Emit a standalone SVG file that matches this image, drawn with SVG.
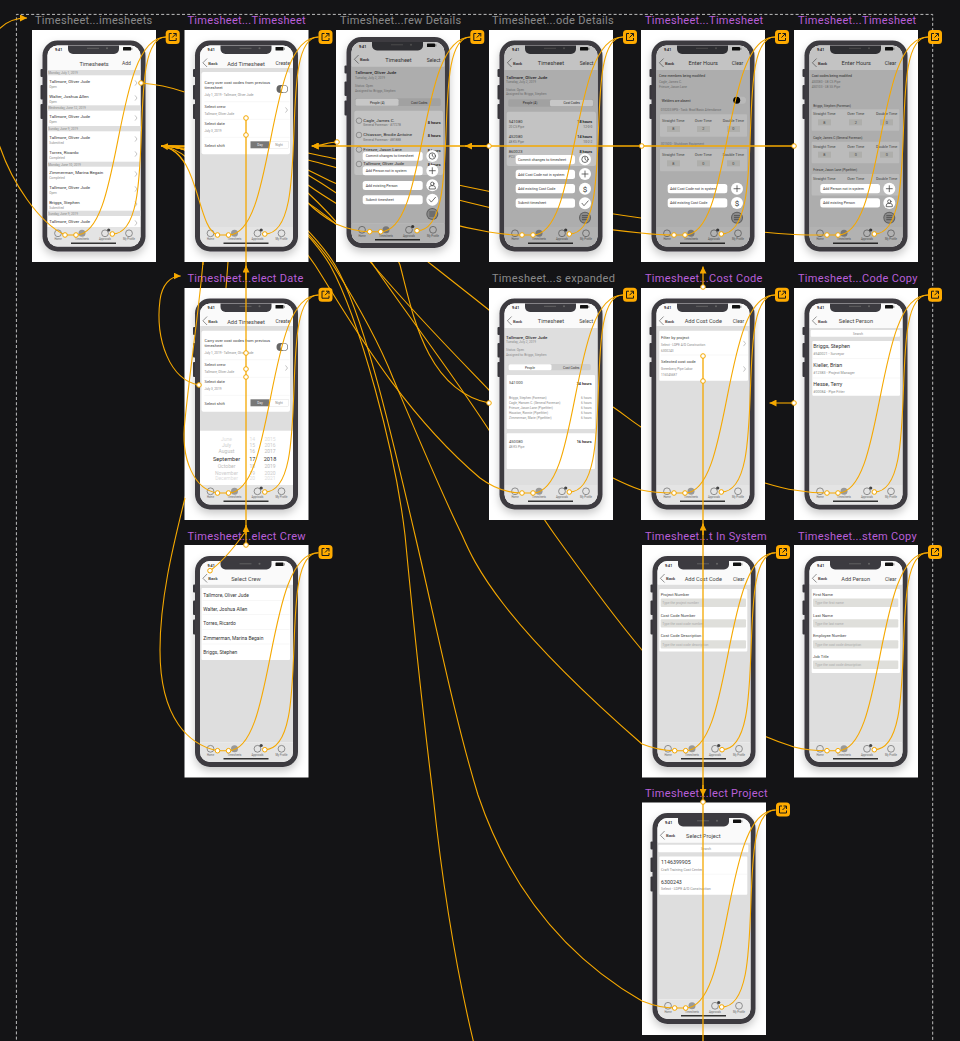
<svg xmlns="http://www.w3.org/2000/svg" width="960" height="1041" viewBox="0 0 960 1041">
<style>
text{font-family:Roboto,"Liberation Sans",sans-serif;fill:#333}
.lbl{font-size:11px;letter-spacing:.3px}
.g{fill:#8a8a8a}.p{fill:#b85fd8}
.frame{fill:#fff}
.title{font-size:5.6px;text-anchor:middle;fill:#444}
.nav{font-size:5px;fill:#444}
.back{font-size:4.2px;font-weight:500;fill:#333}
.n{font-size:4.4px;fill:#333}
.n2{font-size:4.9px;fill:#333}
.n3{font-size:5.3px;fill:#333}
.h{font-size:4.1px;fill:#444}
.s{font-size:3.2px;fill:#8a8a8a}
.b{font-size:3.8px;font-weight:700;text-anchor:end;fill:#333}
.r{font-size:3.2px;text-anchor:end;fill:#777}
.m{font-size:3.8px;text-anchor:middle;fill:#555}
.ph{font-size:3.4px;fill:#aaa}
.tab{font-size:2.7px;text-anchor:middle;fill:#666}
.clk{font-size:3.6px;font-weight:700;fill:#222}
.bg{fill:#dedede}.nb{fill:#fafafa}.w{fill:#fff}.hd{fill:#dedede}
.in{fill:#dfdfdb}.seg{fill:#cfcfcf}.val{fill:#adadad}
.dv{stroke:#eee;stroke-width:.5}
.ov{fill:#000;opacity:.22}
.pill{fill:#fff}
.pt{font-size:3.6px;fill:#333}
.c{fill:none;stroke:#f5a800;stroke-width:1.1}
.v{fill:none;stroke:#f5a800;stroke-width:1.3}
.d{fill:#fff;stroke:#f5a800;stroke-width:1}
.ic{fill:none;stroke:#333;stroke-width:.7;stroke-linecap:round}
</style>
<defs>
<filter id="sh" x="-30%" y="-10%" width="160%" height="125%"><feDropShadow dx="0" dy="4" stdDeviation="4" flood-color="#000" flood-opacity=".22"/></filter>
<marker id="arr" viewBox="0 0 8 8" refX="8" refY="4" markerWidth="7" markerHeight="7" markerUnits="userSpaceOnUse" orient="auto"><path d="M0,0 L8,4 L0,8 z" fill="#f5a800"/></marker>
<g id="phone">
<rect x="8.5" y="39" width="3" height="8" rx="1" fill="#3c3b40"/><rect x="8.5" y="55" width="3" height="14.5" rx="1" fill="#3c3b40"/><rect x="8.5" y="74" width="3" height="15" rx="1" fill="#3c3b40"/>
<rect x="10.5" y="10.5" width="103" height="211" rx="15" fill="#3c3b40" filter="url(#sh)"/>
<rect x="15.5" y="15.5" width="93" height="201" rx="10" fill="#fff"/>
</g>
<g id="phoneTop">
<path d="M15.5,197H108.5V206.5a10,10 0 0 1-10,10H25.5a10,10 0 0 1-10-10Z" fill="#e4e4e4"/>
<path d="M36,15.5H87V19a5,5 0 0 1-5,5H41a5,5 0 0 1-5-5Z" fill="#3c3b40"/>
<path d="M55,18.3H67" stroke="#6a6a6a" stroke-width=".8"/><circle cx="75" cy="18.3" r="1" fill="#666"/>
<rect x="91" y="17" width="8" height="3.6" rx=".6" fill="#111"/><rect x="99" y="17.7" width="1.4" height="2.2" fill="#999"/>
<circle cx="26" cy="203.3" r="3.4" fill="none" stroke="#777" stroke-width=".8"/><circle cx="50" cy="203.3" r="3.5" fill="#999"/><circle cx="73" cy="203.3" r="3.4" fill="none" stroke="#777" stroke-width=".8"/><circle cx="76.7" cy="200" r="1.6" fill="#444"/><circle cx="97" cy="203.3" r="3.4" fill="none" stroke="#777" stroke-width=".8"/>
<path d="M39,213.3H84" stroke="#333" stroke-width="1.4"/>
</g>
<path id="bk" d="M22.6,28.5L18.4,32.8L22.6,37" fill="none" stroke="#777" stroke-width=".8"/>
<path id="chev" d="M0,-2.6L2,0L0,2.6" fill="none" stroke="#aaa" stroke-width=".7"/>
<g id="ext"><rect x="-7" y="-7" width="14" height="14" rx="3.5" fill="#ffab00"/><path d="M-1,-3.5H-3.5V3.5H3.5V1M.5,-3.5H3.5V-.5M3.5,-3.5L-.5,.5" fill="none" stroke="#1a1a1a" stroke-width="1"/></g>
<g id="fClock"><circle r="6" fill="#fff"/><circle r="3.2" class="ic"/><path d="M0,-2V0L1.3,1" class="ic"/></g>
<g id="fPlus"><circle r="6" fill="#fff"/><path d="M-3,0H3M0,-3V3" class="ic" stroke-width="1"/></g>
<g id="fPerson"><circle r="6" fill="#fff"/><circle cy="-1.5" r="1.7" class="ic"/><path d="M-3,3.3V2a2,2 0 0 1 2,-1.6H1a2,2 0 0 1 2,1.6V3.3Z" class="ic"/></g>
<g id="fCheck"><circle r="6" fill="#fff"/><path d="M-3,0L-1,2.4L3.2,-2.4" class="ic" stroke-width="1"/></g>
<g id="fMoney"><circle r="6" fill="#fff"/></g>
<g id="fMenu"><circle r="6" fill="#5f5f5f"/><circle r="5" fill="#8a8a8a"/><path d="M-3,-2H3M-3,0H3M-3,2H3" stroke="#444" stroke-width=".8"/></g>
</defs>
<rect width="960" height="1041" fill="#141416"/>
<path d="M16.4,1050V14.4H932.7V1050" fill="none" stroke="#e8e8e8" stroke-width=".8" stroke-dasharray="3 2.2"/>

<g id="connectors-back">
<path class="c" d="M161,146C220,146 260,145 308,153C400,172 520,201 641,218C700,226 740,231 794,234.5"/>
<path class="c" d="M161,146C220,146 260,148 308,160C400,184 520,222 641,233"/>
<path class="c" d="M161,146C220,146 270,150 308,170C360,197 430,222 489,232"/>
<path class="c" d="M161,146C220,146 270,165 308,203C316,211 326,218 336,224"/>
<path class="c" d="M161,146C220,146 270,152 308,185C350,215 385,225 400,265C412,310 425,390 489,403"/>
<path class="c" d="M161,146C220,146 270,155 308,193C340,222 350,240 373,265C420,320 470,370 489,390C530,430 570,463 613,478C625,484 635,488 641,490"/>
<path class="c" d="M161,146C220,146 270,152 308,175C350,200 390,232 432,265C460,287 470,295 489,310C530,343 570,375 613,407C625,415 630,420 641,427C680,450 725,472 765,483C775,486 785,489 794,490"/>
<path class="c" d="M161,146C215,146 280,215 315,265C350,320 400,410 480,478"/>
<path class="c" d="M161,146C215,146 300,215 330,265C360,320 395,450 405,535C415,640 425,730 433,795C442,880 455,970 478,1060"/>
<path class="c" d="M161,146C215,146 305,215 335,265C365,315 395,450 415,535C435,620 455,720 478,795C500,860 545,945 642,1001"/>
<path class="c" d="M161,146C215,146 300,215 333,265C355,300 378,340 393,378C415,430 440,490 462,535C475,565 500,620 642,744"/>
<path class="c" d="M161,146C215,146 330,200 372,263C400,305 450,370 489,430C510,465 530,500 555,535C580,570 610,612 642,650C680,690 725,725 794,747"/>
<path class="c" d="M161,146C190,150 205,200 203,265"/>
<path class="c" d="M161,146C200,150 228,210 228,262L226,288C224,340 200,430 185,498"/>
</g>

<g id="frame-timesheets" transform="translate(32,30)">
<text class="lbl g" x="3" y="-6">Timesheet...imesheets</text>
<rect class="frame" width="124" height="232"/><use href="#phone"/>
<path class="nb" d="M15.5,25.5a10,10 0 0 1 10,-10H98.5a10,10 0 0 1 10,10V40H15.5Z"/>
<rect class="w" x="15.5" y="40" width="93" height="157"/>
<text class="clk" x="23" y="21.3">9:41</text>
<text class="title" x="62" y="35.5">Timesheets</text><text class="nav" x="90" y="35">Add</text>
<rect class="hd" x="15.5" y="40" width="93" height="5.3"/><text class="s" x="16.3" y="44">Monday, July 1, 2019</text>
<text class="n" x="17.3" y="53">Tallmore, Oliver Jude</text><text class="s" x="17.3" y="58">Open</text><use href="#chev" x="103" y="53"/>
<text class="n" x="17.3" y="67.5">Walter, Joshua Allen</text><text class="s" x="17.3" y="72.5">Open</text><use href="#chev" x="103" y="68"/>
<rect class="hd" x="15.5" y="75.3" width="93" height="5.4"/><text class="s" x="16.3" y="79.3">Wednesday, June 12, 2019</text>
<text class="n" x="17.3" y="88">Tallmore, Oliver Jude</text><text class="s" x="17.3" y="93">Open</text><use href="#chev" x="103" y="88"/>
<rect class="hd" x="15.5" y="96" width="93" height="5.3"/><text class="s" x="16.3" y="100">Sunday, June 9, 2019</text>
<text class="n" x="17.3" y="108.5">Tallmore, Oliver Jude</text><text class="s" x="17.3" y="113.5">Submitted</text><use href="#chev" x="103" y="109"/>
<text class="n" x="17.3" y="123.5">Torres, Ricardo</text><text class="s" x="17.3" y="128.5">Completed</text><use href="#chev" x="103" y="124"/>
<rect class="hd" x="15.5" y="131.7" width="93" height="5"/><text class="s" x="16.3" y="135.6">Monday, June 10, 2019</text>
<text class="n" x="17.3" y="144">Zimmerman, Marina Begain</text><text class="s" x="17.3" y="149">Completed</text><use href="#chev" x="103" y="144"/>
<text class="n" x="17.3" y="158.5">Tallmore, Oliver Jude</text><text class="s" x="17.3" y="163.5">Open</text><use href="#chev" x="103" y="159"/>
<text class="n" x="17.3" y="173.5">Briggs, Stephen</text><text class="s" x="17.3" y="178.5">Submitted</text><use href="#chev" x="103" y="174"/>
<rect class="hd" x="15.5" y="180.7" width="93" height="5.3"/><text class="s" x="16.3" y="184.7">Sunday, June 9, 2019</text>
<text class="n" x="17.3" y="193">Tallmore, Oliver Jude</text><use href="#chev" x="103" y="193"/>
<use href="#phoneTop"/>
<text class="tab" x="26" y="210.3">Home</text><text class="tab" x="50" y="210.3">Timesheets</text><text class="tab" x="73" y="210.3">Approvals</text><text class="tab" x="97" y="210.3">My Profile</text>
</g>

<g id="frame-add-timesheet" transform="translate(184.5,30)">
<text class="lbl p" x="3" y="-6">Timesheet...Timesheet</text>
<rect class="frame" width="124" height="232"/><use href="#phone"/>
<rect class="bg" x="15.5" y="38" width="93" height="159"/>
<path class="nb" d="M15.5,25.5a10,10 0 0 1 10,-10H98.5a10,10 0 0 1 10,10V38H15.5Z"/>
<text class="clk" x="23" y="21.3">9:41</text>
<use href="#bk"/><text class="back" x="23.8" y="34.5">Back</text><text class="title" x="61.5" y="35.5">Add Timesheet</text><text class="nav" x="91" y="35">Create</text>
<rect class="w" x="17" y="42" width="88.5" height="82.3" rx="2"/>
<text class="h" x="20" y="53.5">Carry over cost codes from previous</text><text class="h" x="20" y="58.5">timesheet</text><text class="s" x="20" y="65.5">July 1, 2019 - Tallmore, Oliver Jude</text>
<rect x="92" y="55" width="11.5" height="8" rx="4" fill="#666"/><circle cx="99.5" cy="59" r="3.4" fill="#fff"/>
<path class="dv" d="M20,71.7H105M20,89.3H105M20,107.3H105"/>
<text class="h" x="20" y="77.8">Select crew</text><text class="s" x="20" y="84.8">Tallmore, Oliver Jude</text><use href="#chev" x="101" y="80"/>
<text class="h" x="20" y="95">Select date</text><text class="s" x="20" y="102">July 3, 2019</text>
<text class="h" x="20" y="116.5">Select shift</text>
<rect x="66" y="111.3" width="19" height="7" fill="#777"/><rect x="85" y="111.3" width="19" height="7" fill="#fff" stroke="#ccc" stroke-width=".3"/>
<text class="s" x="75.5" y="116" text-anchor="middle" style="fill:#eee">Day</text><text class="s" x="94.5" y="116" text-anchor="middle">Night</text>
<use href="#phoneTop"/>
<text class="tab" x="26" y="210.3">Home</text><text class="tab" x="50" y="210.3">Timesheets</text><text class="tab" x="73" y="210.3">Approvals</text><text class="tab" x="97" y="210.3">My Profile</text>
</g>

<g id="frame-crew-details" transform="translate(336,26.5)">
<text class="lbl g" x="4" y="-2.5">Timesheet...rew Details</text>
<rect class="frame" y="3.5" width="124" height="232"/><use href="#phone"/>
<rect class="bg" x="15.5" y="40" width="93" height="157"/>
<path class="nb" d="M15.5,25.5a10,10 0 0 1 10,-10H98.5a10,10 0 0 1 10,10V40H15.5Z"/>
<text class="clk" x="23" y="21.3">9:41</text>
<use href="#bk"/><text class="back" x="24" y="34.5">Back</text><text class="title" x="62.5" y="35.3">Timesheet</text><text class="nav" x="90.7" y="35">Select</text>
<text class="n" x="19" y="47.5" font-weight="500">Tallmore, Oliver Jude</text><text class="s" x="19" y="52">Tuesday, July 2, 2019</text><text class="s" x="19" y="60.5">Status: Open</text><text class="s" x="19" y="65">Assigned to: Briggs, Stephen</text>
<rect class="seg" x="19" y="71.8" width="85.7" height="7.7" rx="1.5"/><rect class="w" x="19.5" y="72.2" width="43" height="7" rx="1.5"/>
<text class="s" x="41.3" y="77" text-anchor="middle" style="fill:#333">People (4)</text><text class="s" x="83.3" y="77" text-anchor="middle" style="fill:#333">Cost Codes</text>
<rect class="w" x="18.3" y="84.2" width="88.7" height="64.3" rx="2" style="fill:#fafafa"/>
<circle cx="23" cy="94.2" r="2.8" fill="none" stroke="#888" stroke-width=".6"/><text class="n" x="27.3" y="95">Cagle, James C.</text><text class="s" x="27.3" y="99.5">General Foreman - #77278</text><text class="b" x="104.7" y="97">8 hours</text>
<circle cx="23" cy="108.5" r="2.8" fill="none" stroke="#888" stroke-width=".6"/><text class="n" x="27.3" y="109.5">Chiasson, Brodie Antoine</text><text class="s" x="27.3" y="114">General Foreman - #81888</text><text class="b" x="104.7" y="110.5">8 hours</text>
<circle cx="23" cy="123" r="2.8" fill="none" stroke="#888" stroke-width=".6"/><text class="n" x="27.3" y="124">Friesze, Jason Lane</text><text class="b" x="104.7" y="125">8 hours</text>
<circle cx="23" cy="137.5" r="2.8" fill="none" stroke="#888" stroke-width=".6"/><text class="n" x="27.3" y="138">Tallmore, Oliver Jude</text><text class="b" x="104.7" y="139">8 hours</text>
<use href="#phoneTop"/>
<text class="tab" x="26" y="210.3">Home</text><text class="tab" x="50" y="210.3">Timesheets</text><text class="tab" x="73" y="210.3">Approvals</text><text class="tab" x="97" y="210.3">My Profile</text>
<rect class="ov" x="15.5" y="15.5" width="93" height="201" rx="10"/>
<rect class="pill" x="26.7" y="125.2" width="60" height="9" rx="2.5"/><text class="pt" x="29.7" y="130.8">Commit changes to timesheet</text>
<rect class="pill" x="26.7" y="139.8" width="60" height="9" rx="2.5"/><text class="pt" x="29.7" y="145.4">Add Person not in system</text>
<rect class="pill" x="26.7" y="154.5" width="60" height="9" rx="2.5"/><text class="pt" x="29.7" y="160.1">Add existing Person</text>
<rect class="pill" x="26.7" y="168.8" width="60" height="9" rx="2.5"/><text class="pt" x="29.7" y="174.4">Submit timesheet</text>
<use href="#fClock" x="96.3" y="129.5"/><use href="#fPlus" x="96.3" y="144.2"/><use href="#fPerson" x="96.3" y="158.8"/><use href="#fCheck" x="96.3" y="173.2"/><use href="#fMenu" x="96.3" y="187.5"/>
</g>

<g id="frame-code-details" transform="translate(489,30)">
<text class="lbl g" x="3" y="-6">Timesheet...ode Details</text>
<rect class="frame" width="124" height="232"/><use href="#phone"/>
<rect class="bg" x="15.5" y="40" width="93" height="157"/>
<path class="nb" d="M15.5,25.5a10,10 0 0 1 10,-10H98.5a10,10 0 0 1 10,10V40H15.5Z"/>
<text class="clk" x="23" y="21.3">9:41</text>
<use href="#bk"/><text class="back" x="24" y="34.5">Back</text><text class="title" x="62" y="35.3">Timesheet</text><text class="nav" x="90.7" y="35">Select</text>
<text class="n" x="17" y="48.5" font-weight="500">Tallmore, Oliver Jude</text><text class="s" x="17" y="53">Tuesday, July 2, 2019</text><text class="s" x="17" y="60.7">Status: Open</text><text class="s" x="17" y="65.3">Assigned to: Briggs, Stephen</text>
<rect class="seg" x="19.3" y="69.3" width="85" height="7.4" rx="1.5"/><rect class="w" x="61" y="69.7" width="43" height="6.6" rx="1.5"/>
<text class="s" x="41" y="74.3" text-anchor="middle" style="fill:#333">People (4)</text><text class="s" x="82.7" y="74.3" text-anchor="middle" style="fill:#333">Cost Codes</text>
<rect class="w" x="17.7" y="81.7" width="89.3" height="54.3" rx="2" style="fill:#fafafa"/>
<text class="h" x="19.7" y="93">541080</text><text class="s" x="19.7" y="98">20 CS Pipe</text><text class="b" x="103.3" y="92.5">18 hours</text><text class="r" x="103.3" y="97.5">12-0-0</text>
<text class="h" x="19.7" y="108">452080</text><text class="s" x="19.7" y="113.3">48 KS Pipe</text><text class="b" x="103.3" y="107.5">14 hours</text><text class="r" x="103.3" y="112.5">10-2-2</text>
<text class="h" x="19.7" y="123">860023</text><text class="s" x="19.7" y="128">PCU</text><text class="b" x="103.3" y="122.5">8 hours</text>
<use href="#phoneTop"/>
<text class="tab" x="26" y="210.3">Home</text><text class="tab" x="50" y="210.3">Timesheets</text><text class="tab" x="73" y="210.3">Approvals</text><text class="tab" x="97" y="210.3">My Profile</text>
<rect class="ov" x="15.5" y="15.5" width="93" height="201" rx="10"/>
<rect class="pill" x="26.7" y="125" width="59.3" height="9.3" rx="2.5"/><text class="pt" x="29" y="130.8">Commit changes to timesheet</text>
<rect class="pill" x="26.7" y="139.7" width="59.3" height="9.3" rx="2.5"/><text class="pt" x="29" y="145.5">Add Cost Code not in system</text>
<rect class="pill" x="26.7" y="154" width="59.3" height="9.3" rx="2.5"/><text class="pt" x="29" y="159.8">Add existing Cost Code</text>
<rect class="pill" x="26.7" y="168.5" width="59.3" height="9.3" rx="2.5"/><text class="pt" x="29" y="174.3">Submit timesheet</text>
<use href="#fClock" x="96" y="129.3"/><use href="#fPlus" x="96" y="144"/><use href="#fMoney" x="96" y="158.7"/><text x="96" y="161.5" text-anchor="middle" font-size="8">$</text><use href="#fCheck" x="96" y="173.3"/><use href="#fMenu" x="96" y="187.7"/>
</g>

<g id="frame-enter-hours-crew" transform="translate(641,30)">
<text class="lbl p" x="4" y="-6">Timesheet...Timesheet</text>
<rect class="frame" width="124" height="232"/><use href="#phone"/>
<rect class="bg" x="15.5" y="40" width="93" height="157"/>
<path class="nb" d="M15.5,25.5a10,10 0 0 1 10,-10H98.5a10,10 0 0 1 10,10V40H15.5Z"/>
<text class="clk" x="23" y="21.3">9:41</text>
<use href="#bk"/><text class="back" x="24" y="34.5">Back</text><text class="title" x="62.3" y="35.3">Enter Hours</text><text class="nav" x="90.7" y="35">Clear</text>
<text class="s" x="18" y="46.5" style="fill:#333;font-size:3.4px">Crew members being modified</text><text class="s" x="18" y="53.3">Cagle, James C.</text><text class="s" x="18" y="58.3">Friesze, Jason Lane</text>
<text class="s" x="20.7" y="71.5" style="fill:#333;font-size:3.4px">Welders are absent</text>
<rect x="92" y="66.7" width="13" height="7" rx="3.5" fill="#eee"/><circle cx="95.7" cy="70.2" r="3.5" fill="#000"/>
<text class="s" x="19.7" y="81">010203 EPG - Task: Brad Basic Attendance</text>
<rect class="w" x="19" y="84.3" width="87" height="22.4" rx="1" style="fill:#f0f0f0"/>
<text class="m" x="32.3" y="91.5">Straight Time</text><text class="m" x="62.3" y="91.5">Over Time</text><text class="m" x="92.3" y="91.5">Double Time</text>
<rect class="in" x="26" y="96" width="13" height="6"/><rect class="in" x="56" y="96" width="13" height="6"/><rect class="in" x="86" y="96" width="13" height="6"/>
<text class="m" x="32.3" y="100.3">8</text><text class="m" x="62.3" y="100.3">2</text><text class="m" x="92.3" y="100.3">0</text>
<text class="s" x="19.7" y="115">301500 - Shutdown Equipment</text>
<rect class="w" x="19" y="119" width="87" height="22.3" rx="1" style="fill:#f0f0f0"/>
<text class="m" x="32.3" y="126">Straight Time</text><text class="m" x="62.3" y="126">Over Time</text><text class="m" x="92.3" y="126">Double Time</text>
<rect class="in" x="26" y="130.3" width="13" height="6"/><rect class="in" x="56" y="130.3" width="13" height="6"/><rect class="in" x="86" y="130.3" width="13" height="6"/>
<text class="m" x="32.3" y="134.6">8</text><text class="m" x="62.3" y="134.6">0</text><text class="m" x="92.3" y="134.6">0</text>
<use href="#phoneTop"/>
<text class="tab" x="26" y="210.3">Home</text><text class="tab" x="50" y="210.3">Timesheets</text><text class="tab" x="73" y="210.3">Approvals</text><text class="tab" x="97" y="210.3">My Profile</text>
<rect class="ov" x="15.5" y="15.5" width="93" height="201" rx="10"/>
<rect class="pill" x="26.7" y="154" width="59.6" height="9.3" rx="2.5"/><text class="pt" x="29" y="159.8">Add Cost Code not in system</text>
<rect class="pill" x="26.7" y="168.3" width="59.6" height="9.3" rx="2.5"/><text class="pt" x="29" y="174.1">Add existing Cost Code</text>
<use href="#fPlus" x="96" y="158.7"/><use href="#fMoney" x="96" y="173"/><text x="96" y="175.8" text-anchor="middle" font-size="8">$</text><use href="#fMenu" x="96" y="187.7"/>
</g>

<g id="frame-enter-hours-code" transform="translate(794,30)">
<text class="lbl p" x="4" y="-6">Timesheet...Timesheet</text>
<rect class="frame" width="124" height="232"/><use href="#phone"/>
<rect class="bg" x="15.5" y="40" width="93" height="157"/>
<path class="nb" d="M15.5,25.5a10,10 0 0 1 10,-10H98.5a10,10 0 0 1 10,10V40H15.5Z"/>
<text class="clk" x="23" y="21.3">9:41</text>
<use href="#bk"/><text class="back" x="24" y="34.5">Back</text><text class="title" x="62.3" y="35.3">Enter Hours</text><text class="nav" x="90.7" y="35">Clear</text>
<text class="s" x="17.7" y="46.5" style="fill:#333;font-size:3.4px">Cost codes being modified</text><text class="s" x="17.7" y="53.3">450080 - LB CS Pipe</text><text class="s" x="17.7" y="58.3">450103 - LB SS Pipe</text>
<text class="s" x="19.3" y="76.5" style="fill:#444">Briggs, Stephen (Foreman)</text>
<rect class="w" x="17.7" y="79.3" width="87.6" height="21.4" rx="1" style="fill:#f0f0f0"/>
<text class="m" x="30.3" y="85.3">Straight Time</text><text class="m" x="61.7" y="85.3">Over Time</text><text class="m" x="92.7" y="85.3">Double Time</text>
<rect class="in" x="24" y="89.3" width="13" height="6"/><rect class="in" x="55" y="89.3" width="13" height="6"/><rect class="in" x="86" y="89.3" width="13" height="6"/>
<text class="m" x="30.3" y="93.6">8</text><text class="m" x="61.7" y="93.6">2</text><text class="m" x="92.7" y="93.6">0</text>
<text class="s" x="19.3" y="108.5" style="fill:#444">Cagle, James C (General Foreman)</text>
<rect class="w" x="17.7" y="111.7" width="87.6" height="21.6" rx="1" style="fill:#f0f0f0"/>
<text class="m" x="30.3" y="117.7">Straight Time</text><text class="m" x="61.7" y="117.7">Over Time</text><text class="m" x="92.7" y="117.7">Double Time</text>
<rect class="in" x="24" y="121.7" width="13" height="6"/><rect class="in" x="55" y="121.7" width="13" height="6"/><rect class="in" x="86" y="121.7" width="13" height="6"/>
<text class="m" x="30.3" y="126">8</text><text class="m" x="61.7" y="126">0</text><text class="m" x="92.7" y="126">0</text>
<text class="s" x="19.3" y="140.8" style="fill:#444">Friesze, Jason Lane (Pipefitter)</text>
<rect class="w" x="17.7" y="144" width="87.6" height="21.6" rx="1" style="fill:#f0f0f0"/>
<text class="m" x="30.3" y="150">Straight Time</text><text class="m" x="61.7" y="150">Over Time</text><text class="m" x="92.7" y="150">Double Time</text>
<use href="#phoneTop"/>
<text class="tab" x="26" y="210.3">Home</text><text class="tab" x="50" y="210.3">Timesheets</text><text class="tab" x="73" y="210.3">Approvals</text><text class="tab" x="97" y="210.3">My Profile</text>
<rect class="ov" x="15.5" y="15.5" width="93" height="201" rx="10"/>
<rect class="pill" x="26.3" y="154" width="59.7" height="9.3" rx="2.5"/><text class="pt" x="29" y="159.8">Add Person not in system</text>
<rect class="pill" x="26.3" y="168.3" width="59.7" height="9.3" rx="2.5"/><text class="pt" x="29" y="174.1">Add existing Person</text>
<use href="#fPlus" x="95.3" y="158.7"/><use href="#fPerson" x="95.3" y="173"/><use href="#fMenu" x="95.3" y="187.7"/>
</g>

<g id="frame-select-date" transform="translate(184.5,288)">
<text class="lbl p" x="3" y="-6">Timesheet...elect Date</text>
<rect class="frame" width="124" height="232"/><use href="#phone"/>
<rect class="bg" x="15.5" y="38" width="93" height="159"/>
<path class="nb" d="M15.5,25.5a10,10 0 0 1 10,-10H98.5a10,10 0 0 1 10,10V38H15.5Z"/>
<text class="clk" x="23" y="21.3">9:41</text>
<use href="#bk"/><text class="back" x="23.8" y="34.5">Back</text><text class="title" x="61.5" y="35.5">Add Timesheet</text><text class="nav" x="91" y="35">Create</text>
<rect class="w" x="17" y="42.7" width="88.5" height="81" rx="2"/>
<text class="h" x="20" y="53.5">Carry over cost codes from previous</text><text class="h" x="20" y="58.5">timesheet</text><text class="s" x="20" y="65.5">July 1, 2019 - Tallmore, Oliver Jude</text>
<rect x="92" y="55" width="11.5" height="8" rx="4" fill="#666"/><circle cx="99.5" cy="59" r="3.4" fill="#fff"/>
<path class="dv" d="M20,71.7H105M20,89.3H105M20,107.3H105"/>
<text class="h" x="20" y="78">Select crew</text><text class="s" x="20" y="85">Tallmore, Oliver Jude</text><use href="#chev" x="101" y="80"/>
<text class="h" x="20" y="95">Select date</text><text class="s" x="20" y="102">July 3, 2019</text>
<text class="h" x="20" y="116.5">Select shift</text>
<rect x="66" y="111.3" width="19" height="7" fill="#777"/><rect x="85" y="111.3" width="19" height="7" fill="#fff" stroke="#ccc" stroke-width=".3"/>
<text class="s" x="75.5" y="116" text-anchor="middle" style="fill:#eee">Day</text><text class="s" x="94.5" y="116" text-anchor="middle">Night</text>
<rect class="w" x="15.5" y="142.7" width="93" height="54.3"/>
<g text-anchor="middle" font-size="5">
<text x="42" y="153" style="fill:#ddd">June</text><text x="67.8" y="153" style="fill:#ddd">14</text><text x="85.5" y="153" style="fill:#ddd">2015</text>
<text x="42" y="158.5" style="fill:#ccc">July</text><text x="67.8" y="158.5" style="fill:#ccc">15</text><text x="85.5" y="158.5" style="fill:#ccc">2016</text>
<text x="42" y="165" style="fill:#bbb">August</text><text x="67.8" y="165" style="fill:#bbb">16</text><text x="85.5" y="165" style="fill:#bbb">2017</text>
<text x="42" y="172.5" style="fill:#333;font-size:5.6px">September</text><text x="67.8" y="172.5" style="fill:#333;font-size:5.6px">17</text><text x="85.5" y="172.5" style="fill:#333;font-size:5.6px">2018</text>
<text x="42" y="180" style="fill:#bbb">October</text><text x="67.8" y="180" style="fill:#bbb">18</text><text x="85.5" y="180" style="fill:#bbb">2019</text>
<text x="42" y="186.5" style="fill:#ccc">November</text><text x="67.8" y="186.5" style="fill:#ccc">19</text><text x="85.5" y="186.5" style="fill:#ccc">2020</text>
<text x="42" y="192" style="fill:#ddd">December</text><text x="67.8" y="192" style="fill:#ddd">20</text><text x="85.5" y="192" style="fill:#ddd">2021</text>
</g>
<use href="#phoneTop"/>
<text class="tab" x="26" y="210.3">Home</text><text class="tab" x="50" y="210.3">Timesheets</text><text class="tab" x="73" y="210.3">Approvals</text><text class="tab" x="97" y="210.3">My Profile</text>
</g>

<g id="frame-expanded" transform="translate(489,288)">
<text class="lbl g" x="3" y="-6">Timesheet...s expanded</text>
<rect class="frame" width="124" height="232"/><use href="#phone"/>
<rect class="bg" x="15.5" y="40" width="93" height="157"/>
<path class="nb" d="M15.5,25.5a10,10 0 0 1 10,-10H98.5a10,10 0 0 1 10,10V40H15.5Z"/>
<text class="clk" x="23" y="21.3">9:41</text>
<use href="#bk"/><text class="back" x="24" y="34.5">Back</text><text class="title" x="62" y="35.3">Timesheet</text><text class="nav" x="90.3" y="35">Select</text>
<text class="n" x="17" y="51" font-weight="500">Tallmore, Oliver Jude</text><text class="s" x="17" y="55">Tuesday, July 2, 2019</text><text class="s" x="17" y="63">Status: Open</text><text class="s" x="17" y="68">Assigned to: Briggs, Stephen</text>
<rect class="seg" x="19.3" y="76" width="82.4" height="6.3" rx="1.5"/><rect class="w" x="19.5" y="76.2" width="43" height="6" rx="1.5"/>
<text class="s" x="41" y="80.5" text-anchor="middle" style="fill:#333">People</text><text class="s" x="82.3" y="80.5" text-anchor="middle" style="fill:#333">Cost Codes</text>
<rect class="w" x="17.7" y="87" width="88.3" height="54" rx="1"/>
<text class="h" x="20" y="95.5">541000</text><text class="b" x="102.7" y="96.5">24 hours</text>
<text class="s" x="20" y="110.7">Briggs, Stephen (Foreman)</text><text class="s" x="20" y="115.7">Cagle, Hansen C. (General Foreman)</text><text class="s" x="20" y="120.7">Friesze, Jason Lane (Pipefitter)</text><text class="s" x="20" y="125.7">Houston, Ronnie (Pipefitter)</text><text class="s" x="20" y="130.7">Zimmerman, Marie (Pipefitter)</text>
<text class="s" x="102.7" y="110.7" text-anchor="end">6 hours</text><text class="s" x="102.7" y="115.7" text-anchor="end">6 hours</text><text class="s" x="102.7" y="120.7" text-anchor="end">6 hours</text><text class="s" x="102.7" y="125.7" text-anchor="end">6 hours</text><text class="s" x="102.7" y="130.7" text-anchor="end">6 hours</text>
<rect class="w" x="17.7" y="145.3" width="88.3" height="35.7" rx="1"/>
<text class="h" x="20" y="155">450080</text><text class="s" x="20" y="160">48 KS Pipe</text><text class="b" x="102.7" y="155">16 hours</text>
<use href="#phoneTop"/>
<text class="tab" x="26" y="210.3">Home</text><text class="tab" x="50" y="210.3">Timesheets</text><text class="tab" x="73" y="210.3">Approvals</text><text class="tab" x="97" y="210.3">My Profile</text>
</g>

<g id="frame-cost-code" transform="translate(641,288)">
<text class="lbl p" x="4" y="-6">Timesheet...Cost Code</text>
<rect class="frame" width="124" height="232"/><use href="#phone"/>
<rect class="bg" x="15.5" y="38" width="93" height="159"/>
<path class="nb" d="M15.5,25.5a10,10 0 0 1 10,-10H98.5a10,10 0 0 1 10,10V38H15.5Z"/>
<text class="clk" x="23" y="21.3">9:41</text>
<use href="#bk"/><text class="back" x="24" y="34.5">Back</text><text class="title" x="62.3" y="35.3">Add Cost Code</text><text class="nav" x="91.7" y="35">Clear</text>
<rect class="w" x="18.3" y="42.7" width="88.7" height="50" rx="1"/>
<text class="h" x="20" y="50.5">Filter by project</text><text class="s" x="20" y="57.5">Select - LDPE A/D Construction</text><text class="s" x="20" y="63.5">6300243</text><use href="#chev" x="102.5" y="55.5"/>
<path class="dv" d="M20,67H107"/>
<text class="h" x="20" y="74.5">Selected cost code</text><text class="s" x="20" y="81.5">Greenberry Pipe Labor</text><text class="s" x="20" y="87.5">1160456E7</text><use href="#chev" x="102.5" y="81"/>
<use href="#phoneTop"/>
<text class="tab" x="26" y="210.3">Home</text><text class="tab" x="50" y="210.3">Timesheets</text><text class="tab" x="73" y="210.3">Approvals</text><text class="tab" x="97" y="210.3">My Profile</text>
</g>

<g id="frame-code-copy" transform="translate(794,288)">
<text class="lbl p" x="4" y="-6">Timesheet...Code Copy</text>
<rect class="frame" width="124" height="232"/><use href="#phone"/>
<rect class="bg" x="15.5" y="40" width="93" height="157"/>
<path class="nb" d="M15.5,25.5a10,10 0 0 1 10,-10H98.5a10,10 0 0 1 10,10V40H15.5Z"/>
<text class="clk" x="23" y="21.3">9:41</text>
<use href="#bk"/><text class="back" x="24" y="34.5">Back</text><text class="title" x="62" y="35.3">Select Person</text>
<rect class="w" x="16.7" y="42" width="89.3" height="6.7" rx="1"/><text class="s" x="64" y="46.5" text-anchor="middle">Search</text>
<rect class="w" x="18.3" y="53" width="87.7" height="54.7" rx="1"/>
<text class="n3" x="19.3" y="60">Briggs, Stephen</text><text class="s" x="19.3" y="67" style="font-size:3.6px">#540021 - Surveyor</text>
<path class="dv" d="M19,70.5H106M19,90H106"/>
<text class="n3" x="19.3" y="79">Kieller, Brian</text><text class="s" x="19.3" y="86" style="font-size:3.6px">#12383 - Project Manager</text>
<text class="n3" x="19.3" y="98.3">Hesse, Terry</text><text class="s" x="19.3" y="105.3" style="font-size:3.6px">#00084 - Pipe Fitter</text>
<use href="#phoneTop"/>
<text class="tab" x="26" y="210.3">Home</text><text class="tab" x="50" y="210.3">Timesheets</text><text class="tab" x="73" y="210.3">Approvals</text><text class="tab" x="97" y="210.3">My Profile</text>
</g>

<g id="frame-select-crew" transform="translate(184.5,545)">
<text class="lbl p" x="3" y="-5.5">Timesheet...elect Crew</text>
<rect class="frame" width="124" height="232.5"/><use href="#phone" y=".5"/>
<g transform="translate(0,.5)">
<rect class="bg" x="15.5" y="39" width="93" height="158"/>
<path class="nb" d="M15.5,25.5a10,10 0 0 1 10,-10H98.5a10,10 0 0 1 10,10V39H15.5Z"/>
<text class="clk" x="23" y="21.3">9:41</text>
<use href="#bk"/><text class="back" x="23.8" y="34.5">Back</text><text class="title" x="61.5" y="35.5">Select Crew</text>
<rect class="w" x="17" y="42.5" width="88.5" height="72" rx="1"/>
<text class="n2" x="18.8" y="51">Tallmore, Oliver Jude</text><text class="n2" x="18.8" y="65">Walter, Joshua Allen</text><text class="n2" x="18.8" y="79.2">Torres, Ricardo</text><text class="n2" x="18.8" y="94">Zimmerman, Marina Begain</text><text class="n2" x="18.8" y="108.2">Briggs, Stephen</text>
<path class="dv" d="M18,55H105M18,69H105M18,84H105M18,98.5H105"/>
<use href="#phoneTop"/>
<text class="tab" x="26" y="210.3">Home</text><text class="tab" x="50" y="210.3">Timesheets</text><text class="tab" x="73" y="210.3">Approvals</text><text class="tab" x="97" y="210.3">My Profile</text>
</g>
</g>

<g id="frame-not-in-system" transform="translate(642,545)">
<text class="lbl p" x="3" y="-5.5">Timesheet...t In System</text>
<rect class="frame" width="124" height="232.5"/><use href="#phone" y=".5"/>
<g transform="translate(0,.5)">
<rect class="bg" x="15.5" y="39" width="93" height="158"/>
<path class="nb" d="M15.5,25.5a10,10 0 0 1 10,-10H98.5a10,10 0 0 1 10,10V39H15.5Z"/>
<text class="clk" x="23" y="21.3">9:41</text>
<use href="#bk"/><text class="back" x="24" y="34.5">Back</text><text class="title" x="61.3" y="35.3">Add Cost Code</text><text class="nav" x="91" y="35">Clear</text>
<rect class="w" x="17.3" y="43.5" width="88" height="62.5" rx="1"/>
<text class="h" x="18.7" y="50">Project Number</text><rect class="in" x="18.7" y="53" width="85.3" height="8.4" rx="1"/><text class="ph" x="20.3" y="58.6">Type the project number</text>
<text class="h" x="18.7" y="71">Cost Code Number</text><rect class="in" x="18.7" y="73.7" width="85.3" height="8.3" rx="1"/><text class="ph" x="20.3" y="79.2">Type the cost code number</text>
<text class="h" x="18.7" y="91.4">Cost Code Description</text><rect class="in" x="18.7" y="94.7" width="85.3" height="8.3" rx="1"/><text class="ph" x="20.3" y="100.2">Type the cost code description</text>
<use href="#phoneTop"/>
<text class="tab" x="26" y="210.3">Home</text><text class="tab" x="50" y="210.3">Timesheets</text><text class="tab" x="73" y="210.3">Approvals</text><text class="tab" x="97" y="210.3">My Profile</text>
</g>
</g>

<g id="frame-system-copy" transform="translate(794,545)">
<text class="lbl p" x="4" y="-5.5">Timesheet...stem Copy</text>
<rect class="frame" width="124" height="232.5"/><use href="#phone" y=".5"/>
<g transform="translate(0,.5)">
<rect class="bg" x="15.5" y="39" width="93" height="158"/>
<path class="nb" d="M15.5,25.5a10,10 0 0 1 10,-10H98.5a10,10 0 0 1 10,10V39H15.5Z"/>
<text class="clk" x="23" y="21.3">9:41</text>
<use href="#bk"/><text class="back" x="24" y="34.5">Back</text><text class="title" x="61.7" y="35.3">Add Person</text><text class="nav" x="91" y="35">Clear</text>
<rect class="w" x="17.7" y="43.5" width="88.3" height="84" rx="1"/>
<text class="h" x="19" y="50">First Name</text><rect class="in" x="19" y="53" width="85.3" height="8.4" rx="1"/><text class="ph" x="21" y="58.6">Type the first name</text>
<text class="h" x="19" y="71">Last Name</text><rect class="in" x="19" y="73.7" width="85.3" height="8.3" rx="1"/><text class="ph" x="21" y="79.2">Type the last name</text>
<text class="h" x="19" y="91.4">Employee Number</text><rect class="in" x="19" y="94.7" width="85.3" height="8.3" rx="1"/><text class="ph" x="21" y="100.2">Type the cost code description</text>
<text class="h" x="19" y="112.4">Job Title</text><rect class="in" x="19" y="115" width="85.3" height="8.5" rx="1"/><text class="ph" x="21" y="120.6">Type the cost code description</text>
<use href="#phoneTop"/>
<text class="tab" x="26" y="210.3">Home</text><text class="tab" x="50" y="210.3">Timesheets</text><text class="tab" x="73" y="210.3">Approvals</text><text class="tab" x="97" y="210.3">My Profile</text>
</g>
</g>

<g id="frame-select-project" transform="translate(642,802.5)">
<text class="lbl p" x="3" y="-6">Timesheet...lect Project</text>
<rect class="frame" width="124" height="232.5"/><use href="#phone"/>
<rect class="bg" x="15.5" y="40" width="93" height="157"/>
<path class="nb" d="M15.5,25.5a10,10 0 0 1 10,-10H98.5a10,10 0 0 1 10,10V40H15.5Z"/>
<text class="clk" x="23" y="21.3">9:41</text>
<use href="#bk"/><text class="back" x="24" y="34.5">Back</text><text class="title" x="61.3" y="35.3">Select Project</text>
<rect class="w" x="16.3" y="42.3" width="90" height="7.4" rx="1"/><text class="s" x="64" y="47" text-anchor="middle">Search</text>
<rect class="w" x="17.3" y="54" width="88" height="38.3" rx="1"/>
<text class="n3" x="19" y="61.5">1146399905</text><text class="s" x="19" y="68" style="font-size:3.6px">Craft Training Cost Center</text>
<path class="dv" d="M18,71.7H105"/>
<text class="n3" x="19" y="81">6300243</text><text class="s" x="19" y="87.7" style="font-size:3.6px">Select - LDPE A/D Construction</text>
<use href="#phoneTop"/>
<text class="tab" x="26" y="210.3">Home</text><text class="tab" x="50" y="210.3">Timesheets</text><text class="tab" x="73" y="210.3">Approvals</text><text class="tab" x="97" y="210.3">My Profile</text>
</g>

<g id="connectors-front">
<path class="c" marker-end="url(#arr)" d="M65,235C38,222 12,182 0,147C-25,80 -20,18 27,18"/>
<path class="c" marker-end="url(#arr)" d="M217.5,235C196,228 200,150 161,146"/>
<path class="c" d="M369.7,231.7C358,231.7 348,229 336,224"/>
<path class="c" d="M522,235C510,235 500,234 489,232"/>
<path class="c" d="M674,235C660,235 650,234 641,233"/>
<path class="c" d="M827,235C815,235 805,235 794,234.5"/>
<path class="c" d="M217.5,493C195,490 180,460 185,420C190,370 200,300 203,262"/>
<path class="c" d="M522,493C505,493 492,487 480,478"/>
<path class="c" d="M674,493C660,493 650,492 641,490"/>
<path class="c" d="M827,493C815,493 805,492 794,490"/>
<path class="c" d="M217.5,750.7C190,745 160,720 160,650C160,600 172,550 185,498"/>
<path class="c" d="M674.7,750.7C663,750.7 652,748 642,744"/>
<path class="c" d="M827,750.7C815,750.7 805,750 794,747"/>
<path class="c" d="M674.7,1008C663,1008 652,1005 642,1001"/>
<path class="c" d="M65,235H76c48,0 36,-198 90,-198"/>
<path class="c" d="M217.5,235H228.5c48,0 36,-198 90,-198"/>
<path class="c" d="M369.7,231.7H380.7c48,0 36,-194.7 90,-194.7"/>
<path class="c" d="M522,235H533c48,0 36,-198 90,-198"/>
<path class="c" d="M674,235H685c48,0 36,-198 90,-198"/>
<path class="c" d="M827,235H838c48,0 36,-198 90,-198"/>
<path class="c" d="M217.5,493H228.5c48,0 36,-198 90,-198"/>
<path class="c" d="M522,493H533c48,0 36,-198 90,-198"/>
<path class="c" d="M674,493H685c48,0 36,-198 90,-198"/>
<path class="c" d="M827,493H838c48,0 36,-198 90,-198"/>
<path class="c" d="M217.5,750.7H228.5c48,0 36,-198 90,-198"/>
<path class="c" d="M674.7,750.7H685.7c48,0 36,-198 90,-198"/>
<path class="c" d="M827,750.7H838c48,0 36,-198 90,-198"/>
<path class="c" d="M674.7,1008H685.7c48,0 36,-198 90,-198"/>
<path class="c" d="M112.3,234c49.7,0 9.7,-197 53.7,-197"/>
<path class="c" d="M264.8,234c49.7,0 9.7,-197 53.7,-197"/>
<path class="c" d="M417,230.7c49.7,0 9.7,-193.7 53.7,-193.7"/>
<path class="c" d="M569.3,234c49.7,0 9.7,-197 53.7,-197"/>
<path class="c" d="M721.3,234c49.7,0 9.7,-197 53.7,-197"/>
<path class="c" d="M874.3,234c49.7,0 9.7,-197 53.7,-197"/>
<path class="c" d="M264.8,492c49.7,0 9.7,-197 53.7,-197"/>
<path class="c" d="M569.3,492c49.7,0 9.7,-197 53.7,-197"/>
<path class="c" d="M721.3,492c49.7,0 9.7,-197 53.7,-197"/>
<path class="c" d="M874.3,492c49.7,0 9.7,-197 53.7,-197"/>
<path class="c" d="M264.8,749.7c49.7,0 9.7,-197 53.7,-197"/>
<path class="c" d="M722,749.7c49.7,0 9.7,-197 53.7,-197"/>
<path class="c" d="M874.3,749.7c49.7,0 9.7,-197 53.7,-197"/>
<path class="c" d="M721.7,1007c49.7,0 9.7,-197 53.7,-197"/>
<path class="c" d="M141,83C155,84 170,87 184.5,92"/>
<path class="c" marker-end="url(#arr)" d="M199,385C170,380 155,340 160,300C162,285 170,276 180.7,276"/>
<path class="c" d="M210,570.7C222,562 236,545 246,531"/>
<path class="c" marker-end="url(#arr)" d="M337,142C328,142 322,146 311.7,146"/>
<path class="v" marker-end="url(#arr)" d="M794,146H465"/>
<path class="v" marker-end="url(#arr)" d="M489,146H311.7"/>
<path class="v" d="M246,118V545"/>
<path class="v" marker-end="url(#arr)" d="M246,280V265.5"/>
<path class="v" marker-end="url(#arr)" d="M246,535V525"/>
<path class="c" marker-end="url(#arr)" d="M794,403H769.5"/>
<path class="v" d="M703,356V1041"/>
<path class="v" marker-end="url(#arr)" d="M703,287V266.5"/>
<path class="v" marker-end="url(#arr)" d="M703,535V523.5"/>
<path class="v" marker-end="url(#arr)" d="M703,785V796"/>
<circle class="d" r="2.3" cx="65" cy="235"/><circle class="d" r="2.3" cx="76" cy="235"/><circle class="d" r="2.3" cx="112.3" cy="234"/><circle class="d" r="2.3" cx="141" cy="83"/>
<circle class="d" r="2.3" cx="217.5" cy="235"/><circle class="d" r="2.3" cx="228.5" cy="235"/><circle class="d" r="2.3" cx="264.8" cy="234"/><circle class="d" r="2.3" cx="246" cy="118"/><circle class="d" r="2.3" cx="246" cy="135"/>
<circle class="d" r="2.3" cx="369.7" cy="231.7"/><circle class="d" r="2.3" cx="380.7" cy="231.7"/><circle class="d" r="2.3" cx="417" cy="230.7"/><circle class="d" r="2.3" cx="337" cy="142"/>
<circle class="d" r="2.3" cx="522" cy="235"/><circle class="d" r="2.3" cx="533" cy="235"/><circle class="d" r="2.3" cx="569.3" cy="234"/><circle class="d" r="2.3" cx="489" cy="146"/>
<circle class="d" r="2.3" cx="674" cy="235"/><circle class="d" r="2.3" cx="685" cy="235"/><circle class="d" r="2.3" cx="721.3" cy="234"/><circle class="d" r="2.3" cx="641.7" cy="146"/>
<circle class="d" r="2.3" cx="827" cy="235"/><circle class="d" r="2.3" cx="838" cy="235"/><circle class="d" r="2.3" cx="874.3" cy="234"/><circle class="d" r="2.3" cx="794" cy="146"/>
<circle class="d" r="2.3" cx="217.5" cy="493"/><circle class="d" r="2.3" cx="228.5" cy="493"/><circle class="d" r="2.3" cx="264.8" cy="492"/><circle class="d" r="2.3" cx="199" cy="385"/><circle class="d" r="2.3" cx="246" cy="353"/><circle class="d" r="2.3" cx="246" cy="369"/><circle class="d" r="2.3" cx="246" cy="377"/>
<circle class="d" r="2.3" cx="522" cy="493"/><circle class="d" r="2.3" cx="533" cy="493"/><circle class="d" r="2.3" cx="569.3" cy="492"/><circle class="d" r="2.3" cx="489" cy="403"/>
<circle class="d" r="2.3" cx="674" cy="493"/><circle class="d" r="2.3" cx="685" cy="493"/><circle class="d" r="2.3" cx="721.3" cy="492"/><circle class="d" r="2.3" cx="703" cy="287"/><circle class="d" r="2.3" cx="703" cy="356"/><circle class="d" r="2.3" cx="703" cy="381"/>
<circle class="d" r="2.3" cx="827" cy="493"/><circle class="d" r="2.3" cx="838" cy="493"/><circle class="d" r="2.3" cx="874.3" cy="492"/><circle class="d" r="2.3" cx="794" cy="403"/>
<circle class="d" r="2.3" cx="217.5" cy="750.7"/><circle class="d" r="2.3" cx="228.5" cy="750.7"/><circle class="d" r="2.3" cx="264.8" cy="749.7"/><circle class="d" r="2.3" cx="210" cy="570.7"/><circle class="d" r="2.3" cx="246" cy="545"/>
<circle class="d" r="2.3" cx="674.7" cy="750.7"/><circle class="d" r="2.3" cx="685.7" cy="750.7"/><circle class="d" r="2.3" cx="722" cy="749.7"/>
<circle class="d" r="2.3" cx="827" cy="750.7"/><circle class="d" r="2.3" cx="838" cy="750.7"/><circle class="d" r="2.3" cx="874.3" cy="749.7"/>
<circle class="d" r="2.3" cx="674.7" cy="1008"/><circle class="d" r="2.3" cx="685.7" cy="1008"/><circle class="d" r="2.3" cx="721.7" cy="1007"/><circle class="d" r="2.3" cx="703" cy="802"/>
</g>

<g id="link-icons">
<use href="#ext" x="172.7" y="37"/><use href="#ext" x="325.5" y="37"/><use href="#ext" x="477.3" y="37"/><use href="#ext" x="630" y="37"/><use href="#ext" x="782" y="37"/><use href="#ext" x="935" y="37"/>
<use href="#ext" x="325.5" y="294.7"/><use href="#ext" x="630" y="294.7"/><use href="#ext" x="782" y="294.7"/><use href="#ext" x="935" y="294.7"/>
<use href="#ext" x="325.5" y="552"/><use href="#ext" x="783" y="552"/><use href="#ext" x="935" y="552"/><use href="#ext" x="783" y="809.5"/>
</g>
</svg>
